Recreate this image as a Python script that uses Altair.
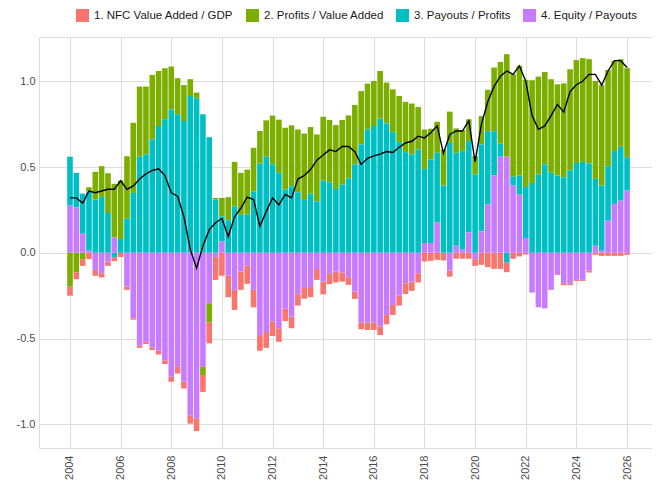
import altair as alt
import pandas as pd

SERIES = ["1. NFC Value Added / GDP", "2. Profits / Value Added",
          "3. Payouts / Profits", "4. Equity / Payouts"]
COLORS = ["#F8766D", "#7CAE00", "#00BFC4", "#C77CFF"]

YEARS = list(range(2004, 2027))
QUARTERS = [f"{y}Q{q}" for y in YEARS for q in range(1, 5)][:89]  # 2004Q1 .. 2026Q1

NFC = [-0.053, -0.041, -0.039, -0.037, -0.034, -0.025, -0.025, -0.024, -0.025, -0.019,
       -0.008, -0.012, -0.013, -0.015, -0.022, -0.023, -0.029, -0.039, -0.039, -0.049,
       -0.072, -0.098, -0.123, -0.133, -0.134, -0.125, -0.117, -0.107, -0.105, -0.102,
       -0.091, -0.092, -0.083, -0.079, -0.072, -0.068, -0.066, -0.063, -0.059, -0.063,
       -0.074, -0.060, -0.064, -0.053, -0.045, -0.043, -0.039, -0.043, -0.043, -0.049,
       -0.054, -0.059, -0.058, -0.063, -0.054, -0.054, -0.051, -0.047, -0.041, -0.045,
       -0.035, -0.035, -0.035, -0.035, -0.039, -0.070, -0.084, -0.094, -0.094, -0.056,
       -0.035, -0.021, -0.010, 0.000, 0.000, 0.000, 0.000, -0.005, -0.012, -0.008,
       -0.006, -0.006, -0.012, -0.012, -0.018, -0.018, -0.018, -0.018, -0.012]

PROFITS = [-0.197, -0.113, -0.037, 0.024, 0.162, 0.179, 0.232, 0.312, 0.341, 0.364,
           0.409, 0.409, 0.396, 0.376, 0.321, 0.298, 0.250, 0.211, 0.210, 0.098,
           0.035, -0.048, -0.111, 0.010, 0.108, 0.134, 0.260, 0.244, 0.263, 0.254,
           0.190, 0.212, 0.285, 0.310, 0.361, 0.355, 0.366, 0.387, 0.388, 0.390,
           0.372, 0.363, 0.372, 0.376, 0.368, 0.347, 0.311, 0.267, 0.263, 0.278,
           0.238, 0.250, 0.269, 0.293, 0.297, 0.248, 0.230, 0.179, 0.181, 0.210,
           0.182, 0.142, 0.122, 0.127, 0.107, 0.165, 0.241, 0.371, 0.477, 0.598,
           0.598, 0.640, 0.624, 0.599, 0.571, 0.539, 0.546, 0.532, 0.548, 0.589,
           0.599, 0.605, 0.609, 0.571, 0.585, 0.561, 0.526, 0.511, 0.519]

PAYOUTS = [0.285, 0.201, 0.234, 0.346, 0.310, 0.326, 0.232, -0.025, 0.080, 0.199,
           0.349, 0.560, 0.573, 0.661, 0.739, 0.778, 0.836, 0.807, 0.768, 0.914,
           0.899, 0.807, 0.674, 0.310, 0.146, 0.190, 0.270, 0.222, 0.222, 0.358,
           0.520, 0.560, 0.515, 0.466, 0.368, 0.388, 0.353, 0.308, 0.345, 0.300,
           0.421, 0.411, 0.372, 0.398, 0.433, 0.515, 0.632, 0.719, 0.739, 0.782,
           0.754, 0.703, 0.645, 0.587, 0.573, 0.602, 0.432, 0.487, 0.406, 0.392,
           0.641, 0.542, 0.575, 0.532, 0.456, 0.507, 0.428, 0.257, 0.076, -0.057,
           0.051, 0.111, 0.298, 0.407, 0.456, 0.515, 0.466, 0.450, 0.440, 0.481,
           0.524, 0.530, 0.520, 0.390, 0.380, 0.318, 0.308, 0.314, 0.194]

EQUITY = [0.275, 0.265, 0.111, 0.012, -0.100, -0.119, -0.051, 0.090, 0.000, -0.197,
          -0.382, -0.542, -0.519, -0.552, -0.571, -0.626, -0.723, -0.665, -0.752, -0.947,
          -0.967, -0.665, -0.294, -0.025, 0.066, -0.134, -0.216, -0.109, -0.076, -0.216,
          -0.480, -0.462, -0.402, -0.440, -0.326, -0.372, -0.242, -0.205, -0.200, -0.095,
          -0.168, -0.123, -0.109, -0.115, -0.142, -0.226, -0.407, -0.407, -0.407, -0.431,
          -0.363, -0.304, -0.250, -0.177, -0.168, -0.119, 0.057, 0.057, 0.177, 0.000,
          -0.104, 0.041, 0.018, 0.119, -0.037, 0.125, 0.281, 0.452, 0.560, 0.560,
          0.392, 0.339, 0.086, -0.232, -0.318, -0.324, -0.216, -0.125, -0.177, -0.181,
          -0.158, -0.158, -0.103, 0.041, 0.012, 0.187, 0.285, 0.304, 0.363]

TOTAL = [0.32, 0.32, 0.29, 0.36, 0.35, 0.36, 0.37, 0.37, 0.42, 0.37,
         0.39, 0.43, 0.46, 0.48, 0.49, 0.45, 0.35, 0.33, 0.21, 0.02,
         -0.09, 0.04, 0.135, 0.175, 0.20, 0.095, 0.21, 0.26, 0.325, 0.31,
         0.154, 0.24, 0.32, 0.28, 0.34, 0.32, 0.43, 0.45, 0.485, 0.54,
         0.57, 0.60, 0.59, 0.62, 0.62, 0.59, 0.515, 0.55, 0.565, 0.575,
         0.59, 0.585, 0.615, 0.64, 0.65, 0.68, 0.67, 0.70, 0.74, 0.58,
         0.69, 0.71, 0.71, 0.77, 0.53, 0.75, 0.88, 0.97, 1.03, 1.06,
         1.04, 1.09, 1.00, 0.80, 0.72, 0.74, 0.80, 0.865, 0.82, 0.94,
         0.98, 1.00, 1.04, 1.04, 0.977, 1.06, 1.12, 1.12, 1.08]


def qtime(label):
    y, q = label.split("Q")
    return int(y) + (int(q) - 1) / 4


rows = []
for i, qlab in enumerate(QUARTERS):
    for k, vals in enumerate([NFC, PROFITS, PAYOUTS, EQUITY]):
        rows.append({"quarter": qlab, "t": qtime(qlab), "series": SERIES[k],
                     "order": 4 - k, "value": vals[i]})
bars_df = pd.DataFrame(rows)
line_df = pd.DataFrame({"quarter": QUARTERS, "t": [qtime(q) for q in QUARTERS], "total": TOTAL})

FONT = "Liberation Sans"

x_scale = alt.Scale(domain=[2002.776, 2026.986], nice=False, zero=False, padding=0)
y_scale = alt.Scale(domain=[-1.138, 1.258], nice=False, zero=False, padding=0)

x_axis = alt.Axis(values=[2004, 2006, 2008, 2010, 2012, 2014, 2016, 2018, 2020, 2022, 2024, 2026],
                  format="d", labelAngle=270, title=None, grid=True, domain=False, ticks=False,
                  labelPadding=7, labelFontSize=11, labelColor="#4D4D4D", labelFont=FONT)
y_axis = alt.Axis(values=[-1.0, -0.5, 0.0, 0.5, 1.0], title=None, grid=True, domain=False,
                  ticks=False, labelPadding=4, labelFontSize=11, labelColor="#4D4D4D",
                  labelFont=FONT,
                  labelExpr="replace(format(datum.value, '.1f'), '\u2212', '-')")

bars = alt.Chart(bars_df).mark_bar(size=5.6).encode(
    x=alt.X("t:Q", scale=x_scale, axis=x_axis),
    y=alt.Y("value:Q", stack="zero", scale=y_scale, axis=y_axis),
    color=alt.Color("series:N", scale=alt.Scale(domain=SERIES, range=COLORS),
                    legend=alt.Legend(title=None, orient="none", direction="horizontal",
                                      legendX=37, legendY=-28, symbolType="square",
                                      symbolSize=169, symbolStrokeWidth=0, symbolOpacity=1,
                                      labelFontSize=11.5, labelFont=FONT, labelColor="#1A1A1A",
                                      labelOffset=5, columnPadding=12)),
    order=alt.Order("order:Q", sort="ascending"),
)

line = alt.Chart(line_df).mark_line(color="black", strokeWidth=1.4).encode(
    x=alt.X("t:Q", scale=x_scale),
    y=alt.Y("total:Q", scale=y_scale),
)

chart = alt.layer(bars, line).properties(
    width=613, height=411,
    autosize=alt.AutoSizeParams(type="none"),
    padding={"left": 31, "top": 29, "right": 0, "bottom": 39},
).configure_view(stroke=None).configure_axis(
    gridColor="#EBEBEB", gridWidth=1.1
).configure(background="white")

chart.save("out.html", embed_options={"renderer": "svg", "actions": False})
